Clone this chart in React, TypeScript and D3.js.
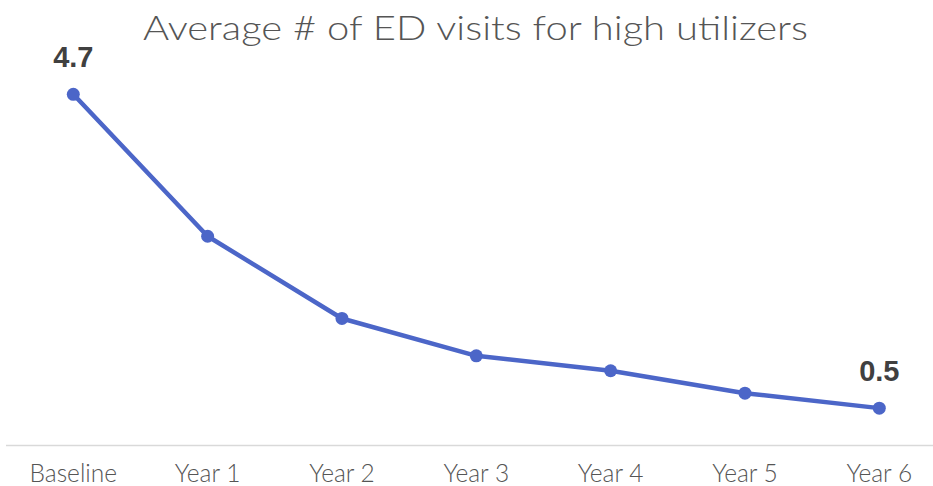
import React from "react";
import * as d3 from "d3";

const categories = ["Baseline", "Year 1", "Year 2", "Year 3", "Year 4", "Year 5", "Year 6"];
const visits = [4.7, 2.8, 1.7, 1.2, 1.0, 0.7, 0.5];
const labelledIdx = [0, 6];
const title = "Average # of ED visits for high utilizers";

const W = 933;
const H = 486;
const FONT = "'Century Gothic', 'URW Gothic', Lato, 'DejaVu Sans', sans-serif";

export default function App() {
  const x = d3.scalePoint<string>().domain(categories).range([73.3, 879.3]);
  const y = d3.scaleLinear().domain([0, 4.7]).range([445.5, 94.3]);
  const line = d3
    .line<number>()
    .x((_, i) => x(categories[i]) as number)
    .y((d) => y(d));

  return (
    <svg
      width={W}
      height={H}
      style={{ position: "absolute", left: 0, top: 0, background: "#fff" }}
    >
      <text
        x={475.5}
        y={39.5}
        textAnchor="middle"
        fontFamily={FONT}
        fontWeight={300}
        fontSize={34}
        fill="#555555"
        textLength={665}
        lengthAdjust="spacingAndGlyphs"
      >
        {title}
      </text>

      <line x1={6} x2={933} y1={y(0)} y2={y(0)} stroke="#d9d9d9" strokeWidth={1.5} />

      {categories.map((c) => (
        <text
          key={c}
          x={x(c)}
          y={482}
          textAnchor="middle"
          fontFamily={FONT}
          fontWeight={300}
          fontSize={24.5}
          fill="#555555"
        >
          {c}
        </text>
      ))}

      <path d={line(visits) ?? ""} fill="none" stroke="#4C66C8" strokeWidth={4.5} strokeLinejoin="round" />
      {visits.map((v, i) => (
        <circle key={i} cx={x(categories[i])} cy={y(v)} r={6.5} fill="#4C66C8" />
      ))}

      {labelledIdx.map((i) => (
        <text
          key={i}
          x={x(categories[i])}
          y={y(visits[i]) - 27.5}
          textAnchor="middle"
          fontFamily="'Liberation Sans', Arial, sans-serif"
          fontWeight="bold"
          fontSize={29}
          fill="#404040"
        >
          {visits[i].toFixed(1)}
        </text>
      ))}
    </svg>
  );
}
